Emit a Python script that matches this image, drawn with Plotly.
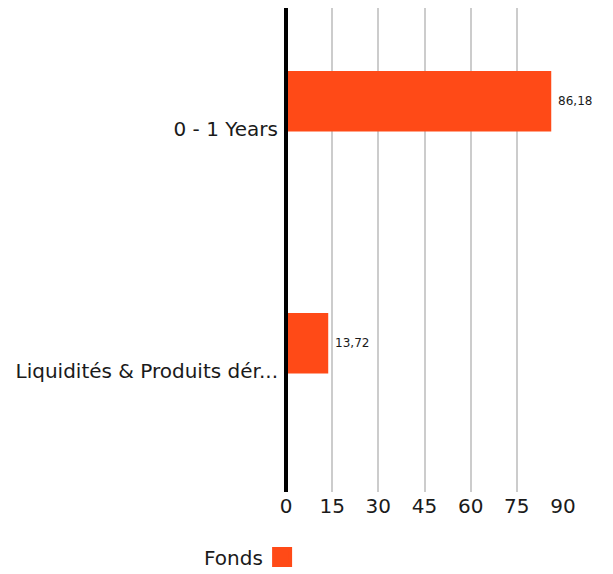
import plotly.graph_objects as go

categories = ["0 - 1 Years", "Liquidités & Produits dér..."]
fonds_values = [86.18, 13.72]
x_ticks = [0, 15, 30, 45, 60, 75, 90]
series_name = "Fonds"

BAR_COLOR = "#FF4A17"
TEXT_COLOR = "#1a1a1a"
FONT = "DejaVu Sans, Arial, sans-serif"

fig = go.Figure()
fig.add_trace(go.Bar(
    x=fonds_values,
    y=categories,
    orientation="h",
    marker=dict(color=BAR_COLOR, line=dict(width=0)),
    offset=-0.24,
    width=0.25,
    texttemplate="\u00a0%{x:.2f}",
    textposition="outside",
    textfont=dict(size=12, color=TEXT_COLOR, family=FONT),
    cliponaxis=False,
    showlegend=False,
    hoverinfo="skip",
))
# legend swatch (label drawn to its left as an annotation)
fig.add_trace(go.Scatter(
    x=[None], y=[None], mode="markers",
    marker=dict(symbol="square", size=20, color=BAR_COLOR,
                line=dict(color=BAR_COLOR, width=4)),
    name="", showlegend=True, hoverinfo="skip",
))

fig.update_layout(
    width=605, height=566,
    margin=dict(l=278, r=50, t=0, b=82),
    paper_bgcolor="white", plot_bgcolor="white",
    separators=",.",
    font=dict(family=FONT, color=TEXT_COLOR, size=20),
    xaxis=dict(
        range=[0, 90],
        tickvals=x_ticks,
        showgrid=True, gridcolor="#cccccc", gridwidth=2,
        zeroline=False, showline=False,
        tickfont=dict(size=20, color=TEXT_COLOR),
        ticks="", ticklabelstandoff=0,
        fixedrange=True,
    ),
    yaxis=dict(
        categoryorder="array", categoryarray=categories,
        autorange="reversed",
        showgrid=False, zeroline=False,
        showline=False,
        tickfont=dict(size=20, color=TEXT_COLOR),
        ticks="", ticklabelstandoff=7,
        fixedrange=True,
    ),
    showlegend=True,
    legend=dict(
        orientation="h",
        xref="container", yref="container",
        x=0.42, xanchor="left",
        y=0.03, yanchor="middle",
        font=dict(size=20),
        itemwidth=30,
    ),
    annotations=[dict(
        text=series_name, xref="paper", yref="paper",
        x=-0.0758, xanchor="right", y=-0.136, yanchor="middle",
        showarrow=False, font=dict(size=20, color=TEXT_COLOR),
    )],
    shapes=[dict(
        type="line", xref="paper", yref="paper",
        x0=0, x1=0, y0=0, y1=1,
        line=dict(color="black", width=4),
    )],
)

fig.write_html("out.html")
